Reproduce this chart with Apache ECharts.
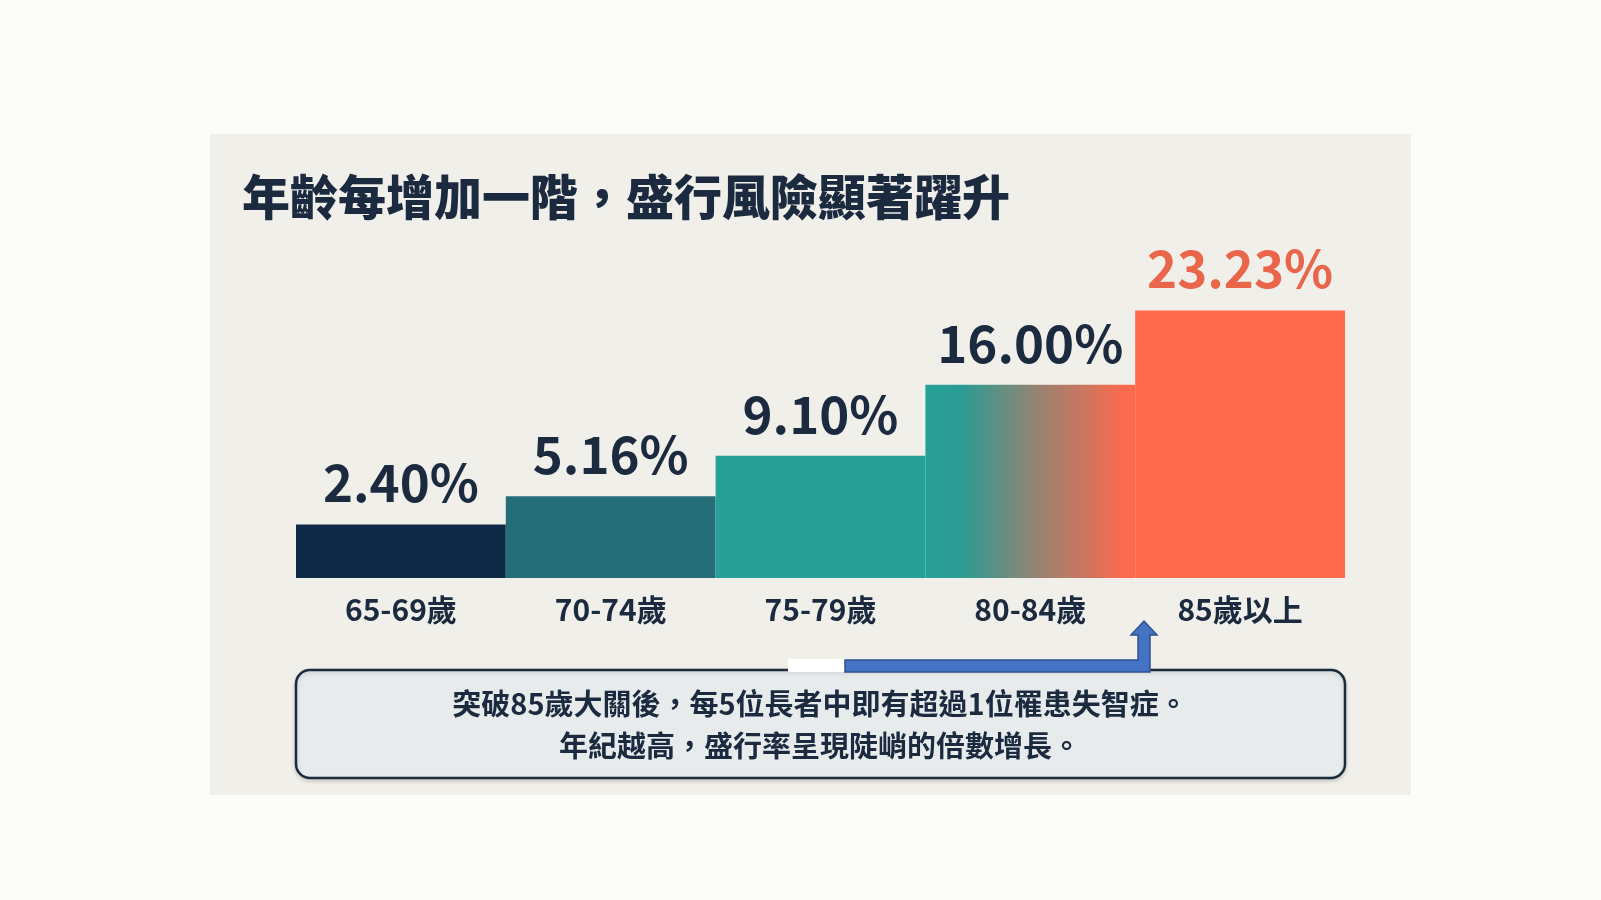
<!DOCTYPE html>
<html>
<head>
<meta charset="utf-8">
<script src="https://cdn.jsdelivr.net/npm/echarts@6/dist/echarts.min.js"></script>
<style>
html,body{margin:0;padding:0;background:#fcfdfa;}
#chart{width:1601px;height:900px;}
</style>
</head>
<body>
<div id="chart"></div>
<script>
const titleText = '年齡每增加一階，盛行風險顯著躍升';
const categories = ['65-69歲', '70-74歲', '75-79歲', '80-84歲', '85歲以上'];
const prevalence = [2.40, 5.16, 9.10, 16.00, 23.23];
const noteLines = ['突破85歲大關後，每5位長者中即有超過1位罹患失智症。', '年紀越高，盛行率呈現陡峭的倍數增長。'];

const FONT = '"Noto Sans CJK TC", "Noto Sans CJK SC", "Noto Sans", sans-serif';
const NAVY = '#1b2a3e';
const TEAL = '#27a098';
const CORAL = '#ff6a4d';
const barFills = [
  '#0f2a47',
  '#256e79',
  TEAL,
  new echarts.graphic.LinearGradient(0, 0, 1, 0, [
    { offset: 0, color: '#26a098' },
    { offset: 0.18, color: '#2c9c93' },
    { offset: 0.55, color: '#9a8270' },
    { offset: 0.95, color: '#fb6a4e' },
    { offset: 1, color: CORAL }
  ]),
  CORAL
];
const labelColors = [NAVY, NAVY, NAVY, NAVY, '#ea664b'];

const chart = echarts.init(document.getElementById('chart'), null, { renderer: 'canvas' });

const option = {
  backgroundColor: '#fcfdfa',
  animation: false,
  title: {
    text: titleText,
    left: 237,
    top: 168,
    textStyle: { fontFamily: FONT, fontSize: 48, fontWeight: 900, color: NAVY }
  },
  grid: { left: 296, right: 1601 - 1345, top: 282, bottom: 900 - 578 },
  xAxis: {
    type: 'category',
    data: categories,
    axisLine: { show: false },
    axisTick: { show: false },
    axisLabel: { margin: 17, fontFamily: FONT, fontSize: 30, fontWeight: 'bold', color: NAVY }
  },
  yAxis: {
    type: 'value',
    min: -2.8,
    max: 26,
    show: false,
    splitLine: { show: false }
  },
  graphic: [
    { type: 'rect', z: -10, shape: { x: 210, y: 134, width: 1201, height: 661 }, style: { fill: '#f0efea' } },
    { type: 'rect', z: 1, shape: { x: 296, y: 670, width: 1049, height: 108, r: 14 },
      style: { fill: '#e7ebec', stroke: NAVY, lineWidth: 2.5, shadowBlur: 4, shadowColor: 'rgba(0,0,0,0.15)', shadowOffsetY: 2 } },
    { type: 'text', z: 2, x: 820, y: 725,
      style: { text: noteLines.join('\n'), align: 'center', verticalAlign: 'middle', lineHeight: 42,
        font: 'bold 29px ' + FONT, fill: NAVY } },
    { type: 'rect', z: 3, shape: { x: 788, y: 659, width: 57, height: 13 }, style: { fill: '#ffffff' } },
    { type: 'polygon', z: 3,
      shape: { points: [[845, 660], [1138, 660], [1138, 635], [1131, 635], [1144, 621], [1157, 635], [1150, 635], [1150, 672], [845, 672]] },
      style: { fill: '#4472c4', stroke: '#2f528f', lineWidth: 1.5 } }
  ],
  series: [{
    type: 'custom',
    data: prevalence.map((v, i) => [i, v]),
    encode: { x: 0, y: 1 },
    renderItem: function (params, api) {
      const i = api.value(0);
      const v = api.value(1);
      const top = api.coord([i, v]);
      const bw = api.size([1, 0])[0];
      const cs = params.coordSys;
      const base = cs.y + cs.height;
      return {
        type: 'group',
        children: [
          { type: 'rect', shape: { x: top[0] - bw / 2, y: top[1], width: bw, height: base - top[1] },
            style: { fill: barFills[i] } },
          { type: 'text', x: top[0], y: top[1] - 16,
            style: { text: v.toFixed(2) + '%', align: 'center', verticalAlign: 'bottom',
              font: 'bold 51px ' + FONT, fill: labelColors[i] } }
        ]
      };
    }
  }]
};
chart.setOption(option);
</script>
</body>
</html>
